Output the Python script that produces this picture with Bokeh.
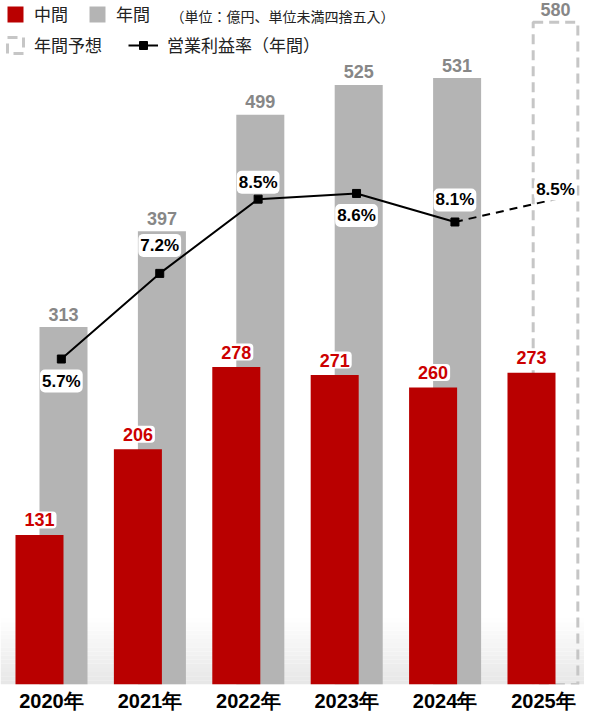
from bokeh.plotting import figure
from bokeh.models import (ColumnDataSource, Range1d, LinearAxis, FixedTicker,
                          Legend, LegendItem, Label)
from bokeh.core.properties import value
from bokeh.embed import file_html
from bokeh.resources import INLINE

# data (億円 / %)
years = ["2020年", "2021年", "2022年", "2023年", "2024年", "2025年"]
interim = [131, 206, 278, 271, 260, 273]
annual = [313, 397, 499, 525, 531]
annual_forecast = [580]
op_margin = [5.7, 7.2, 8.5, 8.6, 8.1]
op_margin_forecast = [8.5]

RED = "#b90000"
GREY = "#b4b4b4"
DASH_GREY = "#c6c6c6"
NUM_FONT = "Liberation Sans"
JP_FONT = "Noto Sans CJK JP"

FW, FH = 584, 684   # frame size
PX = 98.4           # px per year slot
X0 = -51 / PX
YMAX = FH / 1.142   # bar scale
PMAX = YMAX / 50    # margin (%) scale
OFF = 0.122         # bar offset from slot centre
BW = 0.488

p = figure(frame_width=FW, frame_height=FH,
           x_range=Range1d(X0, X0 + FW / PX), y_range=Range1d(0, YMAX),
           x_axis_type=None, y_axis_type=None,
           output_backend="svg", toolbar_location=None, min_border=0)
p.extra_y_ranges = {"pct": Range1d(0, PMAX)}
p.grid.visible = False
p.outline_line_color = None

# soft floor gradient
n = 16
fade = 58.0
for k in range(n):
    t = (k + 0.5) / n
    c = int(231 + (255 - 231) * t)
    p.quad(left=X0, right=X0 + FW / PX, bottom=fade * k / n,
           top=fade * (k + 1) / n, fill_color="#%02x%02x%02x" % (c, c, c),
           line_color=None)

idx = list(range(len(years)))
ann_src = ColumnDataSource(dict(
    x=[i + OFF for i in idx[:len(annual)]], top=annual,
    label=[str(v) for v in annual]))
fc_src = ColumnDataSource(dict(
    x=[idx[-1] + OFF], top=annual_forecast,
    label=[str(v) for v in annual_forecast]))
int_src = ColumnDataSource(dict(
    x=[i - OFF for i in idx], top=interim,
    label=[str(v) for v in interim]))

ann_r = p.vbar(x="x", top="top", width=BW, source=ann_src, fill_color=GREY,
               line_color=None)
fc_r = p.vbar(x="x", top="top", width=BW * 0.93, source=fc_src,
              fill_color=None, line_color=DASH_GREY, line_width=3,
              line_dash="10 6")
int_r = p.vbar(x="x", top="top", width=BW, source=int_src, fill_color=RED,
               line_color=None)

for src in (ann_src, fc_src):
    p.text(x="x", y="top", text="label", source=src, y_offset=-13,
           text_align="center", text_baseline="middle",
           text_font=value(NUM_FONT), text_font_style="bold",
           text_font_size="18px", text_color="#878787")
p.text(x="x", y="top", text="label", source=int_src, y_offset=-15,
       text_align="center", text_baseline="middle",
       text_font=value(NUM_FONT), text_font_style="bold",
       text_font_size="18px", text_color="#cc0000",
       background_fill_color="white", padding=2, border_radius=4)

# operating margin line
mx = [i + 0.1 for i in idx[:len(op_margin)]]
fx = [mx[-1], idx[-1] + OFF]
fy = [op_margin[-1]] + op_margin_forecast
line_r = p.line(mx, op_margin, y_range_name="pct", line_color="black",
                line_width=2)
p.line(fx, fy, y_range_name="pct", line_color="black", line_width=2,
       line_dash="8 6")
mark_r = p.scatter(mx, op_margin, y_range_name="pct", marker="square",
                   size=8, fill_color="black", line_color="black")

pct_dy = [22, -28, -17, 22, -22, -10]
pct_src = ColumnDataSource(dict(
    x=mx + [fx[-1]], y=op_margin + op_margin_forecast,
    label=["%.1f%%" % v for v in op_margin + op_margin_forecast],
    dy=pct_dy))
p.text(x="x", y="y", text="label", y_offset="dy", source=pct_src,
       y_range_name="pct", text_align="center", text_baseline="middle",
       text_font=value(NUM_FONT), text_font_style="bold",
       text_font_size="17px", text_color="black",
       background_fill_color="white", padding=2, border_radius=5)

# x axis
xaxis = LinearAxis(ticker=FixedTicker(ticks=idx),
                   major_label_overrides={i: y for i, y in zip(idx, years)})
xaxis.axis_line_color = None
xaxis.major_tick_line_color = None
xaxis.minor_tick_line_color = None
xaxis.major_tick_out = 0
xaxis.major_tick_in = 0
xaxis.major_label_standoff = 5
xaxis.major_label_text_font = NUM_FONT
xaxis.major_label_text_font_style = "bold"
xaxis.major_label_text_font_size = "20px"
xaxis.major_label_text_color = "black"
p.add_layout(xaxis, "below")


def make_legend(items, loc, glyph_w=20):
    leg = Legend(items=items, location=loc, orientation="horizontal",
                 glyph_width=glyph_w, glyph_height=20, label_height=20,
                 label_standoff=9, spacing=19, padding=0, margin=0,
                 border_line_color=None, background_fill_alpha=0,
                 label_text_font=JP_FONT, label_text_font_size="17px",
                 label_text_color="#222222")
    p.add_layout(leg)


make_legend([LegendItem(label="中間", renderers=[int_r]),
             LegendItem(label="年間", renderers=[ann_r])],
            (5, FH - 26))
make_legend([LegendItem(label="年間予想", renderers=[fc_r])],
            (5, FH - 57))
make_legend([LegendItem(label="営業利益率（年間）",
                        renderers=[line_r, mark_r])],
            (128, FH - 57), glyph_w=30)

p.add_layout(Label(x=170, y=FH - 15, x_units="screen",
                   y_units="screen", text="（単位：億円、単位未満四捨五入）",
                   text_font=JP_FONT, text_font_size="14px",
                   text_color="#222222", text_baseline="middle"))

open("out.html", "w").write(file_html(p, INLINE))
